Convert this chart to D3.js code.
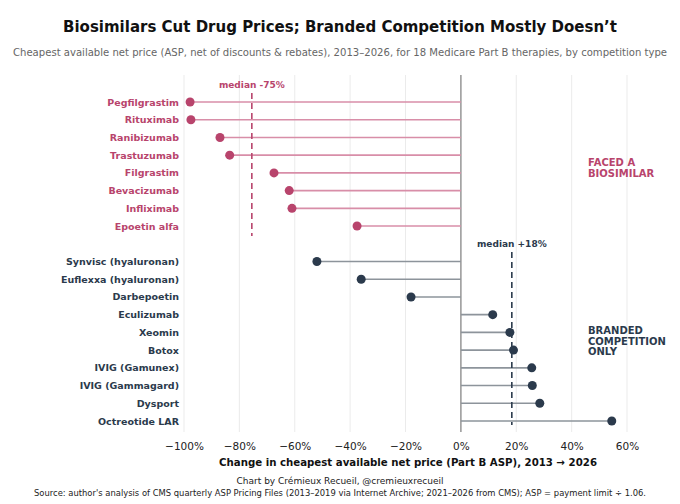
<!DOCTYPE html>
<html><head><meta charset="utf-8">
<script src="https://cdn.jsdelivr.net/npm/d3@7"></script>
<style>body{margin:0;background:#fff}svg{font-family:"DejaVu Sans",sans-serif}</style>
</head><body><svg id="c" width="680" height="504"></svg>
<script>
// drugs that faced a biosimilar
var bioNames = ["Pegfilgrastim","Rituximab","Ranibizumab","Trastuzumab","Filgrastim","Bevacizumab","Infliximab","Epoetin alfa"];
var bioValues = [-0.978, -0.975, -0.87, -0.835, -0.675, -0.62, -0.61, -0.375];
// drugs with branded competition only
var brandNames = ["Synvisc (hyaluronan)","Euflexxa (hyaluronan)","Darbepoetin","Eculizumab","Xeomin","Botox","IVIG (Gamunex)","IVIG (Gammagard)","Dysport","Octreotide LAR"];
var brandValues = [-0.52, -0.36, -0.18, 0.115, 0.177, 0.19, 0.256, 0.258, 0.285, 0.545];
var medians = [-0.755, 0.184];
var ticks = [-1, -0.8, -0.6, -0.4, -0.2, 0, 0.2, 0.4, 0.6];

var pink = "#b8446c", pinkStem = "#d88ea8", navy = "#2b3a4c", navyStem = "#8d949b";
var svg = d3.select("#c");
var x = d3.scaleLinear().domain([-1, 0.6]).range([184, 627]);
var slots = bioNames.concat([""]).concat(brandNames);
var y = d3.scalePoint().domain(d3.range(slots.length)).range([102, 421]);

svg.append("text").attr("x", 340).attr("y", 32).attr("text-anchor", "middle")
  .attr("font-size", 15).attr("font-weight", "bold").attr("fill", "#111")
  .text("Biosimilars Cut Drug Prices; Branded Competition Mostly Doesn\u2019t");
svg.append("text").attr("x", 340).attr("y", 56).attr("text-anchor", "middle")
  .attr("font-size", 10.5).attr("fill", "#666")
  .attr("textLength", 654).attr("lengthAdjust", "spacingAndGlyphs")
  .text("Cheapest available net price (ASP, net of discounts & rebates), 2013\u20132026, for 18 Medicare Part B therapies, by competition type");

// grid
svg.append("g").selectAll("line").data(ticks).join("line")
  .attr("x1", x).attr("x2", x).attr("y1", 75).attr("y2", 432)
  .attr("stroke", "#e6e6e6").attr("stroke-width", 0.8);
svg.append("line").attr("x1", x(0)).attr("x2", x(0)).attr("y1", 75).attr("y2", 432)
  .attr("stroke", "#999").attr("stroke-width", 1.5);

var axis = d3.axisBottom(x).tickValues(ticks).tickSize(0)
  .tickFormat(function (d) { return d3.format(".0f")(d * 100).replace("-", "\u2212") + "%"; });
var ag = svg.append("g").attr("transform", "translate(0,440)").call(axis);
ag.select(".domain").remove();
ag.selectAll("text").attr("font-size", 10.5).attr("fill", "#222").attr("font-family", "DejaVu Sans");
svg.append("text").attr("x", 408).attr("y", 466).attr("text-anchor", "middle")
  .attr("font-size", 10.5).attr("font-weight", "bold").attr("fill", "#111")
  .attr("textLength", 378).attr("lengthAdjust", "spacingAndGlyphs")
  .text("Change in cheapest available net price (Part B ASP), 2013 \u2192 2026");

function group(names, values, offset, col, stem) {
  var g = svg.append("g");
  var d = names.map(function (n, i) { return {n: n, v: values[i], i: i + offset}; });
  g.selectAll("line").data(d).join("line")
    .attr("x1", x(0)).attr("x2", function (e) { return x(e.v); })
    .attr("y1", function (e) { return y(e.i); }).attr("y2", function (e) { return y(e.i); })
    .attr("stroke", stem).attr("stroke-width", 1.6);
  g.selectAll("circle").data(d).join("circle")
    .attr("cx", function (e) { return x(e.v); }).attr("cy", function (e) { return y(e.i); })
    .attr("r", 4.5).attr("fill", col);
  g.selectAll("text").data(d).join("text")
    .attr("x", 179).attr("y", function (e) { return y(e.i) + 3.5; }).attr("text-anchor", "end")
    .attr("font-size", 9.5).attr("font-weight", "bold").attr("fill", col)
    .text(function (e) { return e.n; });
}
group(bioNames, bioValues, 0, pink, pinkStem);
group(brandNames, brandValues, 9, navy, navyStem);

// medians
svg.append("line").attr("x1", x(medians[0])).attr("x2", x(medians[0])).attr("y1", 93).attr("y2", 236)
  .attr("stroke", pink).attr("stroke-width", 1.6).attr("stroke-dasharray", "6,4");
svg.append("text").attr("x", x(medians[0])).attr("y", 88).attr("text-anchor", "middle")
  .attr("font-size", 9).attr("font-weight", "bold").attr("fill", pink).text("median -75%");
svg.append("line").attr("x1", x(medians[1])).attr("x2", x(medians[1])).attr("y1", 252).attr("y2", 425)
  .attr("stroke", navy).attr("stroke-width", 1.6).attr("stroke-dasharray", "6,4");
svg.append("text").attr("x", x(medians[1])).attr("y", 247).attr("text-anchor", "middle")
  .attr("font-size", 9).attr("font-weight", "bold").attr("fill", navy).text("median +18%");

// group labels
function tag(lines, y0, col) {
  svg.append("text").attr("font-size", 10).attr("font-weight", "bold").attr("fill", col)
    .selectAll("tspan").data(lines).join("tspan")
    .attr("x", 588).attr("y", function (d, i) { return y0 + i * 10.5; }).text(function (d) { return d; });
}
tag(["FACED A", "BIOSIMILAR"], 166, pink);
tag(["BRANDED", "COMPETITION", "ONLY"], 334, navy);

svg.append("text").attr("x", 340).attr("y", 484).attr("text-anchor", "middle")
  .attr("font-size", 9).attr("fill", "#222").text("Chart by Cr\u00e9mieux Recueil, @cremieuxrecueil");
svg.append("text").attr("x", 340).attr("y", 496).attr("text-anchor", "middle")
  .attr("font-size", 8.5).attr("fill", "#222")
  .attr("textLength", 612).attr("lengthAdjust", "spacingAndGlyphs")
  .text("Source: author's analysis of CMS quarterly ASP Pricing Files (2013\u20132019 via Internet Archive; 2021\u20132026 from CMS); ASP = payment limit \u00f7 1.06.");
</script></body></html>
